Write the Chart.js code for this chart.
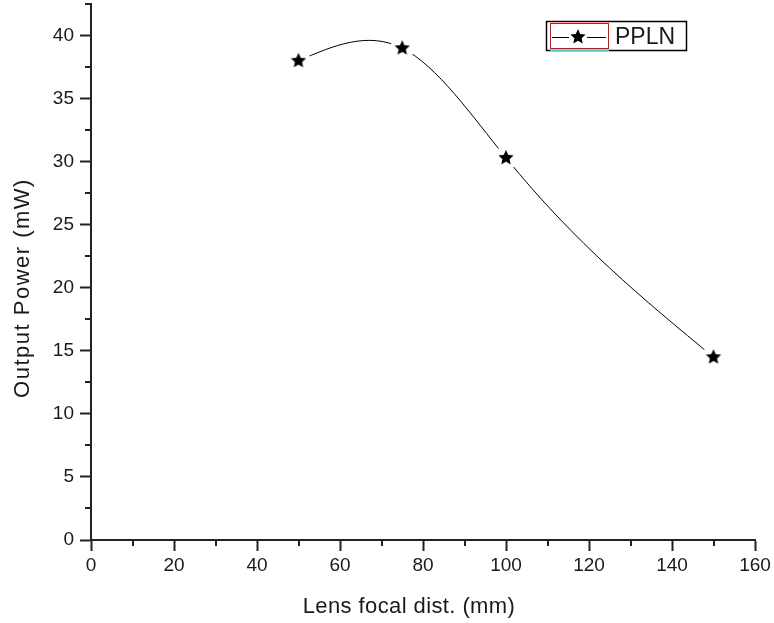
<!DOCTYPE html>
<html>
<head>
<meta charset="utf-8">
<script src="https://cdn.jsdelivr.net/npm/chart.js@4"></script>
<style>
  html, body { margin: 0; padding: 0; background: #fff; }
  #wrap { width: 774px; height: 623px; }
</style>
</head>
<body>
<div id="wrap"><canvas id="powerChart"></canvas></div>
<script>
// Data
const focalLengths = [50, 75, 100, 150];      // mm
const outputPower = [38.0, 39.0, 30.3, 14.5];  // mW
const seriesName = 'PPLN';
const xMajorTicks = [0, 20, 40, 60, 80, 100, 120, 140, 160];
const xMinorTicks = [10, 30, 50, 70, 90, 110, 130, 150];
const yMajorTicks = [0, 5, 10, 15, 20, 25, 30, 35, 40];
const yMinorTicks = [2.5, 7.5, 12.5, 17.5, 22.5, 27.5, 32.5, 37.5, 42.5];

const FONT = "'Liberation Sans', Arial, sans-serif";
const INK = '#1a1a1a';

// filled five point star used as marker
function makeStar(size, outer, inner) {
    const c = document.createElement('canvas');
    c.width = size; c.height = size;
    const g = c.getContext('2d');
    g.beginPath();
    for (let i = 0; i < 10; i++) {
        const r = i % 2 === 0 ? outer : inner;
        const a = -Math.PI / 2 + i * Math.PI / 5;
        const px = size / 2 + r * Math.cos(a);
        const py = size / 2 + r * Math.sin(a);
        if (i === 0) g.moveTo(px, py); else g.lineTo(px, py);
    }
    g.closePath();
    g.fillStyle = '#000';
    g.fill();
    return c;
}
const star = makeStar(18, 8, 3.8);

const points = focalLengths.map((x, i) => ({ x: x, y: outputPower[i] }));

// natural cubic spline (like the original plot) instead of chart.js' default bezier
const naturalSpline = {
    id: 'naturalSpline',
    beforeDatasetDraw(chart, args) {
        if (args.index !== 1) return;
        const line = args.meta.dataset;
        const pts = args.meta.data;
        line.updateControlPoints(chart.chartArea);
        const n = pts.length;
        const xs = pts.map(p => p.x), ys = pts.map(p => p.y);
        const h = [];
        for (let i = 0; i < n - 1; i++) h.push(xs[i + 1] - xs[i]);
        // second derivatives, M[0] = M[n-1] = 0
        const M = new Array(n).fill(0);
        const a = [], b = [], c = [], d = [];
        for (let i = 1; i < n - 1; i++) {
            a.push(h[i - 1]); b.push(2 * (h[i - 1] + h[i])); c.push(h[i]);
            d.push(6 * ((ys[i + 1] - ys[i]) / h[i] - (ys[i] - ys[i - 1]) / h[i - 1]));
        }
        const m = b.length;
        for (let i = 1; i < m; i++) {
            const w = a[i] / b[i - 1];
            b[i] -= w * c[i - 1];
            d[i] -= w * d[i - 1];
        }
        for (let i = m - 1; i >= 0; i--) {
            M[i + 1] = (d[i] - (i < m - 1 ? c[i] * M[i + 2] : 0)) / b[i];
        }
        const slope = (i) => {
            if (i < n - 1) return (ys[i + 1] - ys[i]) / h[i] - h[i] * (2 * M[i] + M[i + 1]) / 6;
            return (ys[i] - ys[i - 1]) / h[i - 1] + h[i - 1] * (M[i - 1] + 2 * M[i]) / 6;
        };
        pts.forEach((p, i) => {
            const s = slope(i);
            const hb = i > 0 ? h[i - 1] : 0;
            const hf = i < n - 1 ? h[i] : 0;
            p.cp1x = p.x - hb / 3; p.cp1y = p.y - s * hb / 3;
            p.cp2x = p.x + hf / 3; p.cp2y = p.y + s * hf / 3;
        });
        line._path = undefined;
    }
};

// minor ticks, axis titles and the legend box
const decorations = {
    id: 'decorations',
    afterDraw(chart) {
        const ctx = chart.ctx;
        const xs = chart.scales.x, ys = chart.scales.y;
        const area = chart.chartArea;
        ctx.save();
        ctx.strokeStyle = '#222';
        ctx.lineWidth = 2;
        ctx.beginPath();
        xMinorTicks.forEach(v => {
            const px = Math.round(xs.getPixelForValue(v));
            ctx.moveTo(px, area.bottom);
            ctx.lineTo(px, area.bottom + 6);
        });
        yMinorTicks.forEach(v => {
            const py = Math.round(ys.getPixelForValue(v));
            ctx.moveTo(area.left, py);
            ctx.lineTo(area.left - 6, py);
        });
        ctx.stroke();

        // axis titles
        ctx.fillStyle = INK;
        ctx.font = '22px ' + FONT;
        ctx.textAlign = 'center';
        ctx.textBaseline = 'middle';
        ctx.letterSpacing = '0.4px';
        ctx.fillText('Lens focal dist. (mm)', 409, 607);
        ctx.save();
        ctx.letterSpacing = '1.5px';
        ctx.translate(23, 288);
        ctx.rotate(-Math.PI / 2);
        ctx.fillText('Output Power (mW)', 0, 0);
        ctx.restore();
        ctx.letterSpacing = '0px';

        // legend
        ctx.lineWidth = 1.5;
        ctx.strokeStyle = '#000';
        ctx.strokeRect(546.5, 21.5, 140, 29);
        ctx.lineWidth = 1;
        ctx.strokeStyle = '#ff0000';
        ctx.strokeRect(550.5, 23.5, 58, 25);
        ctx.strokeStyle = '#00e5ee';
        ctx.beginPath();
        ctx.moveTo(550, 50.5);
        ctx.lineTo(609, 50.5);
        ctx.stroke();
        ctx.strokeStyle = '#000';
        ctx.beginPath();
        ctx.moveTo(552, 37.5);
        ctx.lineTo(606, 37.5);
        ctx.stroke();
        ctx.fillStyle = '#fff';
        ctx.fillRect(569, 29, 18, 17);
        ctx.drawImage(star, 578 - 9, 37 - 9);
        ctx.fillStyle = INK;
        ctx.textAlign = 'left';
        ctx.font = '23px ' + FONT;
        ctx.fillText(seriesName, 615, 38);
        ctx.restore();
    }
};

new Chart(document.getElementById('powerChart'), {
    type: 'line',
    data: {
        datasets: [
            {
                // stars on top
                label: seriesName,
                data: points,
                showLine: false,
                pointStyle: star,
                pointRadius: 9,
                order: 0
            },
            {
                // smooth curve, white discs leave a gap around each marker
                label: seriesName + ' curve',
                data: points,
                borderColor: '#000',
                borderWidth: 1,
                tension: 0.4,
                pointStyle: 'circle',
                pointRadius: 12,
                pointBackgroundColor: '#fff',
                pointBorderWidth: 0,
                order: 1
            }
        ]
    },
    options: {
        responsive: true,
        maintainAspectRatio: false,
        animation: false,
        layout: { autoPadding: false, padding: { top: 4, right: 19, bottom: 0, left: 0 } },
        plugins: {
            legend: { display: false },
            tooltip: { enabled: false }
        },
        scales: {
            x: {
                type: 'linear',
                min: 0,
                max: 160,
                afterBuildTicks: (s) => { s.ticks = xMajorTicks.map(v => ({ value: v })); },
                afterFit: (s) => { s.height = 83; },
                border: { display: true, color: '#222', width: 2 },
                grid: {
                    drawOnChartArea: false,
                    tickLength: 11,
                    tickWidth: 2,
                    tickColor: '#222'
                },
                ticks: {
                    autoSkip: false,
                    maxRotation: 0,
                    padding: 3,
                    color: INK,
                    font: { family: FONT, size: 19 }
                }
            },
            y: {
                min: 0,
                max: 42.5,
                afterBuildTicks: (s) => { s.ticks = yMajorTicks.map(v => ({ value: v })); },
                afterFit: (s) => { s.width = 91; s.paddingTop = 0; s.paddingBottom = 0; },
                border: { display: true, color: '#222', width: 2 },
                grid: {
                    drawOnChartArea: false,
                    tickLength: 11,
                    tickWidth: 2,
                    tickColor: '#222'
                },
                ticks: {
                    autoSkip: false,
                    padding: 6,
                    color: INK,
                    font: { family: FONT, size: 19 }
                }
            }
        }
    },
    plugins: [naturalSpline, decorations]
});
</script>
</body>
</html>
